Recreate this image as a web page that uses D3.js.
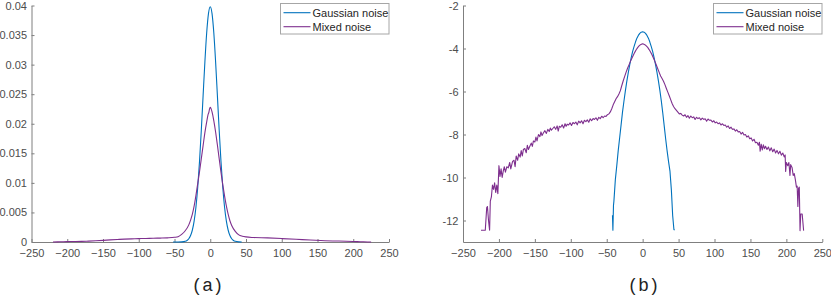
<!DOCTYPE html>
<html>
<head>
<meta charset="utf-8">
<script src="https://cdn.jsdelivr.net/npm/d3@7"></script>
<style>
  html, body { margin: 0; padding: 0; background: #fff; }
  svg { display: block; }
  text { font-family: "Liberation Sans", Arial, Helvetica, sans-serif; }
</style>
</head>
<body>
<svg id="chart" width="831" height="296"></svg>
<script>
// ---------- DATA ----------
const seriesNames = ["Gaussian noise", "Mixed noise"];
const panelLabels = ["(a)", "(b)"];

const xTicks = [-250, -200, -150, -100, -50, 0, 50, 100, 150, 200, 250];
const yTicksA = [0, 0.005, 0.01, 0.015, 0.02, 0.025, 0.03, 0.035, 0.04];
const yTickLabelsA = ["0", "0.005", "0.01", "0.015", "0.02", "0.025", "0.03", "0.035", "0.04"];
const yTicksB = [-12, -10, -8, -6, -4, -2];

// (a) probability density, Gaussian noise  [x, p]
const gaussPdf = [
  [-52, 0], [-45, 0], [-40, 0.00002], [-35, 0.00012], [-32.5, 0.00026], [-30, 0.00055],
  [-27.5, 0.00109], [-25, 0.00203], [-22.5, 0.00357], [-20, 0.00593], [-17.5, 0.00926],
  [-15, 0.01364], [-12.5, 0.01891], [-10, 0.02472], [-7.5, 0.03045], [-5, 0.03534],
  [-2.5, 0.03863], [0, 0.0398], [2.5, 0.03863], [5, 0.03534], [7.5, 0.03045],
  [10, 0.02472], [12.5, 0.01891], [15, 0.01364], [17.5, 0.00926], [20, 0.00593],
  [22.5, 0.00357], [25, 0.00203], [27.5, 0.00109], [30, 0.00055], [32.5, 0.00026],
  [35, 0.00012], [40, 0.00002], [44, 0]
];

// (a) probability density, Mixed noise  [x, p]
const mixedPdf = [
  [-220, 0.000004], [-210, 0.00003], [-200, 0.00007], [-190, 0.00008], [-180, 0.0001],
  [-170, 0.00015], [-160, 0.0002], [-150, 0.00027], [-140, 0.00036], [-130, 0.00043],
  [-120, 0.00049], [-110, 0.00053], [-100, 0.00057], [-90, 0.0006], [-80, 0.00063],
  [-70, 0.00066], [-60, 0.0007], [-50, 0.00079], [-45, 0.0009], [-40, 0.0013],
  [-35, 0.0019], [-30, 0.0029], [-27.5, 0.0037], [-25, 0.0047], [-22.5, 0.0061],
  [-20, 0.0079], [-17.5, 0.0099], [-15, 0.0119], [-12.5, 0.0141], [-10, 0.0163],
  [-7.5, 0.0185], [-5, 0.0203], [-3, 0.0216], [-2, 0.0219], [-1, 0.0225], [0, 0.0228],
  [1, 0.0226], [2.5, 0.0220], [5, 0.0205], [7.5, 0.0186], [10, 0.0164], [12.5, 0.0141],
  [15, 0.0118], [17.5, 0.0097], [20, 0.0078], [22.5, 0.0061], [25, 0.0047],
  [27.5, 0.0036], [30, 0.0028], [35, 0.0018], [40, 0.0012], [45, 0.00098],
  [50, 0.00086], [60, 0.00076], [80, 0.00069], [100, 0.00058], [120, 0.00046],
  [140, 0.00034], [160, 0.00021], [180, 0.00016], [200, 0.00008], [210, 0.00005],
  [220, 0.00001], [225, 0]
];

// (b) log density, Gaussian noise  [x, ln p]
const gaussLog = [
  [-42, -11.75], [-41.4, -12.45], [-40.6, -11.3], [-40, -11.1], [-38, -10.1], [-36, -9.45],
  [-34, -8.75], [-32, -8.15], [-30, -7.55], [-28, -6.95], [-26, -6.44], [-24, -5.96],
  [-22, -5.52], [-20, -5.12], [-18, -4.76], [-16, -4.44], [-14, -4.15], [-12, -3.91],
  [-10, -3.70], [-8, -3.52], [-6, -3.39], [-4, -3.30], [-2, -3.24], [0, -3.22],
  [2, -3.24], [4, -3.30], [6, -3.39], [8, -3.52], [10, -3.70], [12, -3.91],
  [14, -4.15], [16, -4.44], [18, -4.76], [20, -5.12], [22, -5.52], [24, -5.96],
  [26, -6.45], [28, -7.0], [30, -7.6], [32, -8.2], [34, -8.75], [36, -9.25],
  [38, -9.7], [40, -10.6], [41.8, -11.78], [43.5, -12.42], [44.5, -12.45]
];

// (b) log density, Mixed noise  [x, ln p]
const mixedLog = [
  [-225, -12.45], [-222, -12.45], [-219, -12.45], [-217, -11.4], [-216, -11.35], [-214.5, -12.0],
  [-213, -12.45], [-212, -11.1], [-210.5, -10.9], [-209, -10.35], [-207.5, -10.55], [-206, -10.25],
  [-204.5, -10.7], [-203, -10.35], [-201.5, -10.75], [-200, -9.45], [-198.5, -9.95], [-197, -9.6],
  [-195.5, -10.0], [-194, -9.7], [-192.5, -9.5], [-191, -9.75], [-189, -9.5], [-187, -9.55],
  [-185, -9.3], [-183.5, -9.6], [-181, -9.25], [-179, -9.2], [-177.5, -9.5], [-176, -9.0],
  [-174, -9.2], [-172.5, -8.9], [-170.5, -9.05], [-169, -8.75], [-167.5, -9.0], [-166, -8.7],
  [-164, -8.65], [-162, -8.85], [-160.5, -8.5], [-159, -8.7], [-157, -8.55], [-155, -8.4],
  [-153.5, -8.55], [-152, -8.3], [-150, -8.35], [-148.5, -8.12], [-147, -8.3], [-145, -8.0],
  [-143, -8.1], [-141.5, -7.88], [-140, -8.05], [-138, -7.92], [-136, -7.82], [-134, -7.95],
  [-132, -7.76], [-130, -7.86], [-128.5, -7.7], [-127, -7.8], [-125, -7.72], [-123, -7.64],
  [-121, -7.76], [-119, -7.6], [-117.5, -7.84], [-116, -7.62], [-114, -7.66], [-112, -7.55],
  [-110, -7.7], [-108, -7.5], [-106.5, -7.62], [-105, -7.52], [-103, -7.56], [-101, -7.46],
  [-99, -7.58], [-97, -7.44], [-95, -7.5], [-93, -7.42], [-91, -7.55], [-89, -7.38],
  [-87, -7.46], [-85, -7.36], [-83, -7.5], [-81, -7.34], [-79, -7.4], [-77, -7.32],
  [-75, -7.43], [-73, -7.27], [-71, -7.36], [-69, -7.26], [-67, -7.3], [-65, -7.22],
  [-63, -7.34], [-61, -7.2], [-59, -7.26], [-57, -7.15], [-55, -7.22], [-53, -7.14],
  [-51, -7.16], [-49, -7.08], [-47, -7.04], [-45, -6.95], [-43, -6.8], [-41, -6.62],
  [-39, -6.48], [-37, -6.34], [-35, -6.24], [-33, -6.12], [-31, -5.96], [-29, -5.72],
  [-27, -5.5], [-25, -5.3], [-23, -5.1], [-21, -4.92], [-19, -4.76], [-17, -4.6],
  [-15, -4.45], [-13, -4.31], [-11, -4.18], [-9, -4.06], [-7, -3.96], [-5, -3.88],
  [-3, -3.82], [-1, -3.79], [0, -3.78], [1, -3.79], [3, -3.82], [5, -3.88], [7, -3.95],
  [9, -4.05], [11, -4.16], [13, -4.29], [15, -4.44], [17, -4.6], [19, -4.77],
  [21, -4.94], [23, -5.11], [25, -5.28], [27, -5.4], [29, -5.52], [31, -5.68],
  [33, -5.86], [35, -6.03], [37, -6.2], [39, -6.38], [41, -6.56], [43, -6.7],
  [45, -6.8], [47, -6.88], [49, -6.96], [51, -7.04], [53, -7.02], [55, -7.1],
  [57, -7.14], [59, -7.08], [61, -7.2], [63, -7.12], [65, -7.24], [67, -7.14],
  [69, -7.22], [71, -7.18], [73, -7.3], [75, -7.2], [77, -7.26], [79, -7.22],
  [81, -7.32], [83, -7.24], [85, -7.3], [87, -7.27], [89, -7.38], [91, -7.28],
  [93, -7.34], [95, -7.33], [97, -7.42], [99, -7.36], [101, -7.46], [103, -7.42],
  [105, -7.5], [107, -7.46], [109, -7.56], [111, -7.5], [113, -7.58], [115, -7.56],
  [117, -7.66], [119, -7.6], [121, -7.72], [123, -7.66], [125, -7.76], [127, -7.74],
  [129, -7.84], [131, -7.78], [133, -7.88], [135, -7.86], [137, -7.98], [139, -7.9],
  [141, -8.02], [143, -8.0], [145, -8.12], [147, -8.06], [149, -8.2], [151, -8.16],
  [153, -8.3], [155, -8.22], [157, -8.38], [159, -8.36], [161, -8.5], [162.5, -8.36],
  [163.5, -8.78], [165, -8.45], [166.5, -8.72], [168, -8.48], [169.5, -8.66], [171, -8.55],
  [173, -8.7], [175, -8.58], [177, -8.76], [179, -8.62], [181, -8.8], [183, -8.68],
  [185, -8.86], [187, -8.74], [189, -8.9], [191, -8.78], [193, -8.96], [195, -8.86],
  [197, -9.04], [198.3, -8.95], [199, -9.72], [200, -9.3], [202, -9.45], [203.5, -9.3],
  [205, -9.9], [206, -9.4], [208, -9.55], [209.5, -9.9], [211, -9.82], [212.5, -10.1],
  [214, -10.45], [215, -10.4], [216, -11.35], [217, -10.5], [218, -10.45], [219, -12.47],
  [220, -11.7], [222, -11.7], [224, -12.47]
];

// ---------- STYLE ----------
const colors = ["#0072BD", "#7E2F8E"];
const axisColor = "#7f7f7f";
const labelColor = "#4d4d4d";

const svg = d3.select("#chart");

function drawPanel(cfg) {
  const x = d3.scaleLinear().domain([-250, 250]).range(cfg.xRange);
  const y = d3.scaleLinear().domain(cfg.yDomain).range([242, 5.5]);
  const g = svg.append("g");

  // x axis
  const xa = g.append("g").attr("transform", `translate(0,${y.range()[0]})`)
    .call(d3.axisBottom(x).tickValues(xTicks).tickSizeInner(-3).tickSizeOuter(0).tickFormat(d3.format("d")));
  xa.selectAll("text").attr("y", 7.2).attr("dy", "0.71em");

  // y axis
  const ya = g.append("g").attr("transform", `translate(${x.range()[0]},0)`)
    .call(d3.axisLeft(y).tickValues(cfg.yTicks).tickSizeInner(-3).tickSizeOuter(0)
      .tickFormat((d, i) => cfg.yLabels[i]));
  ya.selectAll("text").attr("x", -4.5);

  [xa, ya].forEach(a => {
    a.select(".domain").attr("stroke", axisColor).attr("stroke-width", 1);
    a.selectAll(".tick line").attr("stroke", axisColor);
    a.selectAll("text").attr("fill", labelColor).attr("font-size", 11);
  });

  const line = d3.line().x(d => x(d[0])).y(d => y(d[1]));
  if (cfg.curve) line.curve(d3.curveMonotoneX);
  cfg.series.forEach((s, i) => {
    g.append("path").datum(s)
      .attr("fill", "none")
      .attr("stroke", colors[i])
      .attr("stroke-width", 1.1)
      .attr("stroke-linejoin", "round")
      .attr("d", line);
  });

  // legend
  const lx = cfg.legendX, ly = 3.5;
  const lg = g.append("g");
  lg.append("rect").attr("x", lx).attr("y", ly).attr("width", 108.5).attr("height", 30.5)
    .attr("fill", "#fff").attr("stroke", "#a6a6a6").attr("stroke-width", 1);
  seriesNames.forEach((n, i) => {
    const yy = ly + 9.2 + i * 14;
    lg.append("line").attr("x1", lx + 3).attr("x2", lx + 30).attr("y1", yy).attr("y2", yy)
      .attr("stroke", colors[i]).attr("stroke-width", 1.1);
    lg.append("text").attr("x", lx + 32).attr("y", yy).attr("dy", "0.35em")
      .attr("font-size", 11).attr("fill", "#262626").text(n);
  });

  // panel caption
  g.append("text").attr("x", cfg.captionX).attr("y", 291)
    .attr("text-anchor", "middle")
    .attr("font-family", "'Liberation Serif', 'DejaVu Serif', serif")
    .attr("font-size", 18).attr("letter-spacing", 3)
    .attr("fill", "#222").text(cfg.caption);
}

drawPanel({
  xRange: [31.5, 389], yDomain: [0, 0.04], yTicks: yTicksA, yLabels: yTickLabelsA,
  series: [gaussPdf, mixedPdf], legendX: 280.5, captionX: 209, caption: panelLabels[0], curve: true
});
drawPanel({
  xRange: [463, 822.3], yDomain: [-13, -2], yTicks: yTicksB, yLabels: yTicksB.map(String),
  series: [gaussLog, mixedLog], legendX: 713.5, captionX: 645, caption: panelLabels[1], curve: false
});
</script>
</body>
</html>
